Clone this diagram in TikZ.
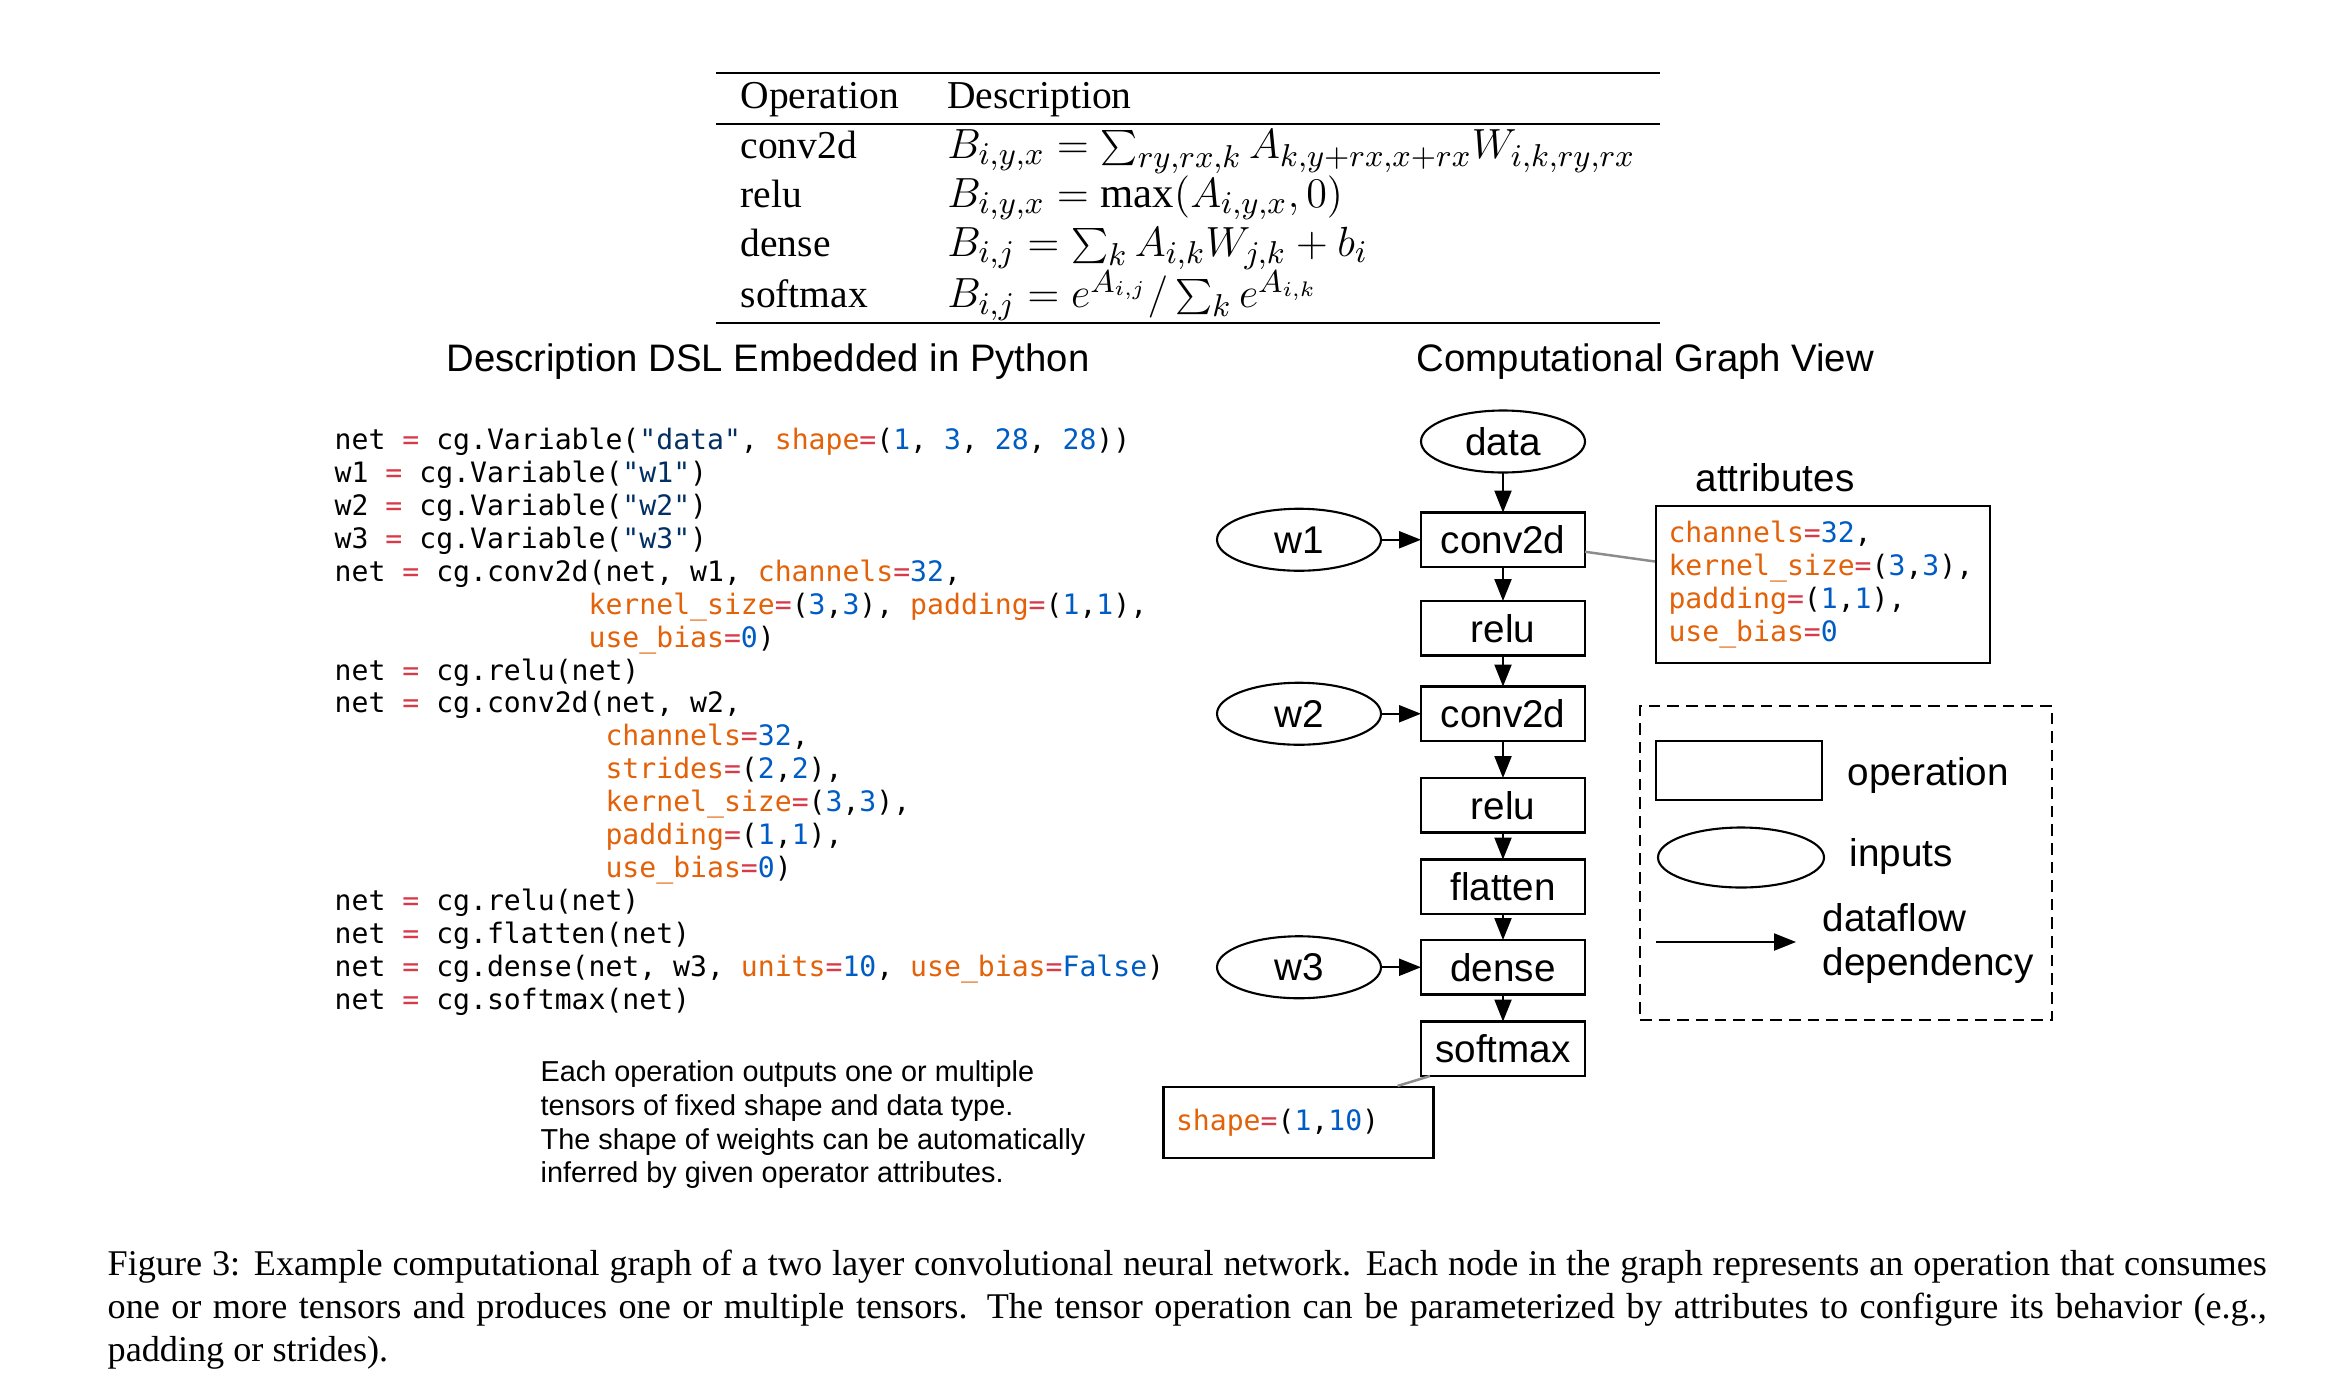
\documentclass[tikz,border=0pt]{standalone}
\usepackage{fontspec}
\setmainfont{Liberation Serif}
\setsansfont{Liberation Sans}
\setmonofont{DejaVu Sans Mono}
\usetikzlibrary{positioning,shapes.geometric,arrows.meta}

% code colours
\definecolor{kwarg}{HTML}{E36209}
\definecolor{opred}{HTML}{D73A49}
\definecolor{numblue}{HTML}{005CC5}
\definecolor{strnavy}{HTML}{032F62}
\definecolor{linkgray}{HTML}{8C8C8C}

\newcommand{\ckw}[1]{\textcolor{kwarg}{#1}}
\newcommand{\ceq}{\textcolor{opred}{=}}
\newcommand{\cnum}[1]{\textcolor{numblue}{#1}}
\newcommand{\cstr}[1]{\textcolor{strnavy}{#1}}
\newcommand{\pad}[1]{\hspace*{#1\fontcharwd\font`x}}
\newcommand{\fml}[1]{{\fontsize{12.15}{13.85}\selectfont$#1$}}

\tikzset{
  op/.style={draw, rectangle, line width=0.6pt, outer sep=0pt, minimum width=1.64cm, minimum height=0.545cm, inner sep=0pt, font=\sffamily\fontsize{11}{13}\selectfont},
  inp/.style={draw, ellipse, line width=0.6pt, outer sep=0pt, minimum width=1.64cm, minimum height=0.62cm, inner sep=0pt, font=\sffamily\fontsize{11}{13}\selectfont},
  flow/.style={-{Triangle[length=2.2mm,width=1.7mm]}, line width=0.6pt},
  attrline/.style={draw=linkgray, line width=0.7pt},
  codebox/.style={draw, line width=0.6pt, align=left, inner xsep=0.125cm, font=\ttfamily\fontsize{8}{9.38}\selectfont},
  txt/.style={inner sep=0pt, font=\sffamily\fontsize{11}{12.3}\selectfont},
  headtxt/.style={inner sep=0pt, font=\sffamily\fontsize{10.9}{13}\selectfont},
}

\begin{document}
\begin{tikzpicture}
  \path[fill=white, use as bounding box] (0,0) rectangle (23.38,-13.82);

  % Table of operations:
  \node[anchor=north west, inner sep=0pt, font=\fontsize{11.25}{13.85}\selectfont] (optable) at (7.157,-0.716) {%
    \setlength{\arrayrulewidth}{0.5pt}\setlength{\tabcolsep}{6.9pt}%
    \begin{tabular}{ll}
      \hline
      Operation & Description\\
      \hline
      conv2d & \fml{B_{i,y,x}=\sum_{ry,rx,k}A_{k,y+rx,x+rx}W_{i,k,ry,rx}}\\
      relu & \fml{B_{i,y,x}=\max(A_{i,y,x},0)}\\
      dense & \fml{B_{i,j}=\sum_{k}A_{i,k}W_{j,k}+b_i}\\
      softmax & \fml{B_{i,j}=e^{A_{i,j}}/\sum_{k}e^{A_{i,k}}}\\
      \hline
    \end{tabular}};

  % Headings:
  \node[headtxt] (dsltitle) at (7.68,-3.62) {Description DSL Embedded in Python};
  \node[headtxt] (cgtitle) at (16.454,-3.62) {Computational Graph View};

  % Python code:
  \node[anchor=north west, inner sep=0pt, align=left, font=\ttfamily\fontsize{8}{9.38}\selectfont] (code) at (3.34,-4.27) {%
    net \ceq{} cg.Variable(\cstr{"data"}, \ckw{shape}\ceq(\cnum{1}, \cnum{3}, \cnum{28}, \cnum{28}))\\
    w1 \ceq{} cg.Variable(\cstr{"w1"})\\
    w2 \ceq{} cg.Variable(\cstr{"w2"})\\
    w3 \ceq{} cg.Variable(\cstr{"w3"})\\
    net \ceq{} cg.conv2d(net, w1, \ckw{channels}\ceq\cnum{32},\\
    \pad{15}\ckw{kernel\_size}\ceq(\cnum{3},\cnum{3}), \ckw{padding}\ceq(\cnum{1},\cnum{1}),\\
    \pad{15}\ckw{use\_bias}\ceq\cnum{0})\\
    net \ceq{} cg.relu(net)\\
    net \ceq{} cg.conv2d(net, w2,\\
    \pad{16}\ckw{channels}\ceq\cnum{32},\\
    \pad{16}\ckw{strides}\ceq(\cnum{2},\cnum{2}),\\
    \pad{16}\ckw{kernel\_size}\ceq(\cnum{3},\cnum{3}),\\
    \pad{16}\ckw{padding}\ceq(\cnum{1},\cnum{1}),\\
    \pad{16}\ckw{use\_bias}\ceq\cnum{0})\\
    net \ceq{} cg.relu(net)\\
    net \ceq{} cg.flatten(net)\\
    net \ceq{} cg.dense(net, w3, \ckw{units}\ceq\cnum{10}, \ckw{use\_bias}\ceq\cnum{False})\\
    net \ceq{} cg.softmax(net)};

  \node[anchor=north west, inner sep=0pt, align=left, font=\sffamily\fontsize{8.2}{9.6}\selectfont] (note) at (5.40,-10.60) {%
    Each operation outputs one or multiple\\
    tensors of fixed shape and data type.\\
    The shape of weights can be automatically\\
    inferred by given operator attributes.};

  % Graph:
  \node[inp] (data) at (15.03,-4.415) {data};
  \node[op, below=4mm of data] (conv1) {conv2d};
  \node[op, below=3.4mm of conv1] (relu1) {relu};
  \node[op, below=3.1mm of relu1] (conv2) {conv2d};
  \node[op, below=3.7mm of conv2] (relu2) {relu};
  \node[op, below=2.7mm of relu2] (flat) {flatten};
  \node[op, below=2.6mm of flat] (dense) {dense};
  \node[op, below=2.7mm of dense] (soft) {softmax};

  \node[inp, left=4mm of conv1] (w1) {w1};
  \node[inp, left=4mm of conv2] (w2) {w2};
  \node[inp, left=4mm of dense] (w3) {w3};

  \draw[flow] (data) -- (conv1);
  \draw[flow] (conv1) -- (relu1);
  \draw[flow] (relu1) -- (conv2);
  \draw[flow] (conv2) -- (relu2);
  \draw[flow] (relu2) -- (flat);
  \draw[flow] (flat) -- (dense);
  \draw[flow] (dense) -- (soft);
  \draw[flow] (w1) -- (conv1);
  \draw[flow] (w2) -- (conv2);
  \draw[flow] (w3) -- (dense);

  % Attributes:
  \node[txt] (attrtitle) at (17.75,-4.78) {attributes};
  \node[codebox, text width=3.09cm, minimum height=1.57cm] (attrs) at (18.23,-5.845) {%
    \ckw{channels}\ceq\cnum{32},\\
    \ckw{kernel\_size}\ceq(\cnum{3},\cnum{3}),\\
    \ckw{padding}\ceq(\cnum{1},\cnum{1}),\\
    \ckw{use\_bias}\ceq\cnum{0}};
  \draw[attrline] ([yshift=-1.2mm]conv1.east) -- ([yshift=2.3mm]attrs.west);

  \node[codebox, text width=2.45cm, minimum height=0.71cm] (shapebox) at (12.985,-11.225) {\ckw{shape}\ceq(\cnum{1},\cnum{10})};
  \draw[attrline] ([xshift=0.9mm]soft.south west) -- ([xshift=-3.7mm]shapebox.north east);

  % Legend:
  \node[draw, dashed, dash pattern=on 3.3pt off 2pt, line width=0.6pt, minimum width=4.12cm, minimum height=3.14cm] (legend) at (18.46,-8.63) {};
  \node[op, minimum width=1.66cm, minimum height=0.59cm] (legop) at (17.39,-7.705) {};
  \node[inp, minimum width=1.66cm, minimum height=0.6cm] (legin) at (17.41,-8.575) {};
  \node[txt, anchor=west] (legoptxt) at (18.47,-7.755) {operation};
  \node[txt, anchor=west] (legintxt) at (18.49,-8.565) {inputs};
  \coordinate (legA) at (16.56,-9.42);
  \coordinate (legB) at (17.96,-9.42);
  \draw[flow] (legA) -- (legB);
  \node[txt, anchor=west, align=left] (legflow) at (18.22,-9.435) {dataflow\\dependency};

  % Caption:
  \node[anchor=north west, inner sep=0pt, text width=21.59cm, align=justify, font=\fontsize{10.3}{12.3}\selectfont] (caption) at (1.07,-12.49) {Figure 3: Example computational graph of a two layer convolutional neural network. Each node in the graph represents an operation that consumes one or more tensors and produces one or multiple tensors.  The tensor operation can be parameterized by attributes to configure its behavior (e.g., padding or strides).};
\end{tikzpicture}
\end{document}
